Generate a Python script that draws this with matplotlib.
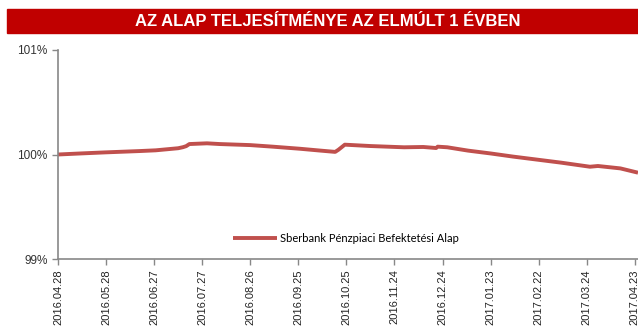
import matplotlib
matplotlib.use("Agg")
import matplotlib.pyplot as plt
from matplotlib.patches import Rectangle
import pandas as pd

# fund performance over the last year (indexed to 100%)
dates = ["2016-04-28", "2016-05-12", "2016-05-27", "2016-06-18", "2016-06-28",
         "2016-07-05", "2016-07-12", "2016-07-15", "2016-07-17", "2016-07-19",
         "2016-07-30", "2016-08-07", "2016-08-26", "2016-09-09", "2016-09-26",
         "2016-10-09", "2016-10-18", "2016-10-20", "2016-10-24", "2016-11-09",
         "2016-11-30", "2016-12-12", "2016-12-20", "2016-12-21", "2016-12-27",
         "2017-01-09", "2017-01-23", "2017-02-06", "2017-03-08", "2017-03-26",
         "2017-03-31", "2017-04-14", "2017-04-25"]
values = [100.000, 100.010, 100.020, 100.033, 100.040,
          100.050, 100.060, 100.070, 100.080, 100.100,
          100.107, 100.100, 100.090, 100.075, 100.055,
          100.037, 100.025, 100.045, 100.094, 100.081,
          100.069, 100.072, 100.062, 100.075, 100.069,
          100.037, 100.010, 99.980, 99.922, 99.883,
          99.890, 99.867, 99.826]

tick_labels = ["2016.04.28", "2016.05.28", "2016.06.27", "2016.07.27", "2016.08.26",
               "2016.09.25", "2016.10.25", "2016.11.24", "2016.12.24", "2017.01.23",
               "2017.02.22", "2017.03.24", "2017.04.23"]
y_ticks = [99, 100, 101]
series_name = "Sberbank Pénzpiaci Befektetési Alap"
title = "AZ ALAP TELJESÍTMÉNYE AZ ELMÚLT 1 ÉVBEN"

x = pd.to_datetime(dates)
tick_pos = pd.to_datetime(tick_labels, format="%Y.%m.%d")

fig = plt.figure(figsize=(6.38, 3.27), dpi=100)
W, H = 638, 327

# red title band
fig.patches.append(Rectangle((7 / W, 1 - 33 / H), 631 / W, 24 / H,
                             transform=fig.transFigure, color="#C00000", zorder=0))
fig.text(328 / W, 1 - 22 / H, title, color="white", fontsize=12,
         fontweight="bold", family="Liberation Sans", ha="center", va="center")

ax = fig.add_axes([58 / W, 1 - 259 / H, 580 / W, 209 / H])
ax.plot(x, values, color="#C0504D", linewidth=2.8, solid_capstyle="butt",
        label=series_name)

ax.set_ylim(99, 101)
ax.set_yticks(y_ticks)
ax.set_yticklabels([f"{v}%" for v in y_ticks], family="Liberation Sans",
                   fontsize=8.5, color="#333333")
ax.set_xlim(x[0], x[0] + pd.Timedelta(days=362))
ax.set_xticks(tick_pos)
ax.set_xticklabels(tick_labels, rotation=90, family="Liberation Sans",
                   fontsize=8, color="#222222", va="top")

for s in ["top", "right"]:
    ax.spines[s].set_visible(False)
for s in ["left", "bottom"]:
    ax.spines[s].set_color("#888888")
    ax.spines[s].set_linewidth(1.2)
ax.tick_params(axis="both", direction="out", length=4, color="#888888", width=1)
ax.tick_params(axis="x", pad=3.5)

leg = ax.legend(loc="center", bbox_to_anchor=(0.497, 0.10), frameon=False,
                prop={"family": "Lato", "size": 8}, handlelength=3.9,
                handletextpad=0.3)

fig.savefig("out.png", dpi=100)
